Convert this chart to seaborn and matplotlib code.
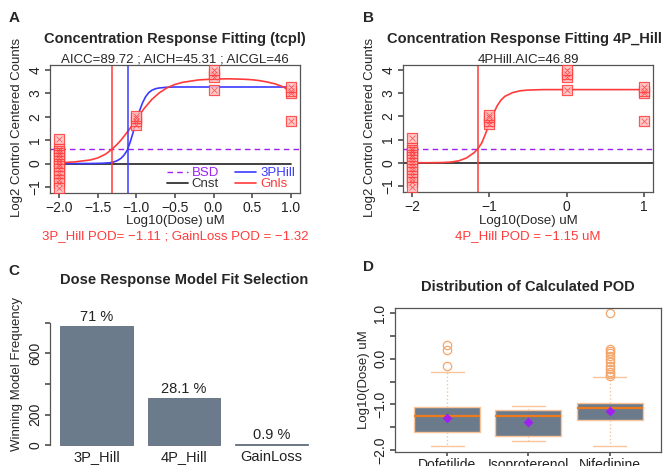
import matplotlib
matplotlib.use("Agg")
import matplotlib.pyplot as plt
import numpy as np
import pandas as pd
import seaborn as sns

# ---- data ------------------------------------------------------------------
# observed responses (same well set in panels A and B)
dose_pts = [-2] * 15 + [-1] * 4 + [0] * 4 + [1] * 4
resp_pts = [1.05, 0.62, 0.55, 0.45, 0.35, 0.25, 0.12, 0.0, -0.12, -0.25,
            -0.4, -0.55, -0.7, -0.85, -1.05,
            1.65, 1.8, 1.95, 2.05,
            3.15, 3.7, 3.83, 4.0,
            1.8, 3.0, 3.1, 3.28]

bsd_level = 0.6
cnst_x = [-2.0, 1.0]
cnst_y = [0.0, 0.0]

hill3_x = [-2.0, -1.6, -1.45, -1.35, -1.3, -1.25, -1.2, -1.16, -1.12, -1.08,
           -1.04, -1.0, -0.96, -0.92, -0.88, -0.84, -0.8, -0.75, -0.7, -0.6,
           -0.5, 0.0, 1.0]
hill3_y = [0.0, 0.0, 0.01, 0.03, 0.06, 0.12, 0.22, 0.36, 0.56, 0.92,
           1.36, 1.82, 2.25, 2.6, 2.86, 3.03, 3.13, 3.2, 3.23, 3.26,
           3.27, 3.27, 3.27]

gnls_x = [-2.0, -1.8, -1.6, -1.5, -1.4, -1.32, -1.25, -1.2, -1.1, -1.0, -0.9,
          -0.8, -0.7, -0.6, -0.5, -0.4, -0.2, 0.0, 0.2, 0.4, 0.5, 0.6, 0.7,
          0.8, 0.9, 0.95, 1.0]
gnls_y = [0.03, 0.07, 0.15, 0.24, 0.4, 0.6, 0.82, 1.0, 1.42, 1.9, 2.35,
          2.74, 3.03, 3.24, 3.38, 3.47, 3.57, 3.61, 3.62, 3.6, 3.58, 3.54, 3.48,
          3.4, 3.28, 3.18, 3.05]

hill4_x = [-2.0, -1.8, -1.6, -1.5, -1.4, -1.3, -1.2, -1.15, -1.1, -1.05, -1.0,
           -0.95, -0.9, -0.85, -0.8, -0.7, -0.6, -0.5, -0.3, 0.0, 1.0]
hill4_y = [0.0, 0.0, 0.01, 0.03, 0.08, 0.2, 0.43, 0.6, 0.85, 1.25, 1.7,
           2.1, 2.45, 2.7, 2.86, 3.02, 3.1, 3.13, 3.15, 3.15, 3.15]

hill3_pod = -1.11
gnls_pod = -1.32
hill4_pod = -1.15

models = ["3P_Hill", "4P_Hill", "GainLoss"]
model_counts = [781, 309, 10]
model_pct = ["71 %", "28.1 %", "0.9 %"]

drugs = ["Dofetilide", "Isoproterenol", "Nifedipine"]
pod_dofetilide = [-1.9, -1.82, -1.75, -1.7, -1.65, -1.6, -1.52, -1.45, -1.38,
                  -1.3, -1.25, -1.22, -1.18, -1.14, -1.1, -1.05, -0.95, -0.28,
                  -0.15, 0.2, 0.3]
pod_isoproterenol = [-1.8, -1.75, -1.7, -1.5, -1.25, -1.2, -1.12, -1.08, -1.03]
pod_nifedipine = [-1.91, -1.8, -1.72, -1.65, -1.6, -1.56, -1.52, -1.49, -1.46,
                  -1.44, -1.42, -1.4, -1.39, -1.38, -1.36, -1.35,
                  -1.33, -1.31, -1.29, -1.27, -1.25, -1.23, -1.21, -1.19,
                  -1.17, -1.15, -1.13, -1.12, -1.11, -1.09, -1.08,
                  -1.075, -1.07, -1.06, -1.055, -1.05, -1.04, -1.035, -1.03,
                  -1.02, -1.01, -1.0, -0.99, -0.985, -0.98, -0.97,
                  -0.85, -0.6, -0.41, -0.38, -0.33, -0.28, -0.22, -0.15,
                  -0.08, 0.0, 0.07, 0.13, 0.18, 0.22, 1.0]
pod_mean = [-1.3, -1.38, -1.15]

# ---- style -----------------------------------------------------------------
W, H = 669, 466
RED = "#FF3B3B"
BLUE = "#3A3AFF"
PURPLE = "#A020F0"
DARK = "#333333"
SLATE = "#6C7B8B"
PEACH = "#F9C49A"
ORANGE = "#EE7A1E"
FLIER = "#F4A66C"

sns.set_theme(style="ticks")
plt.rcParams["font.family"] = ["Liberation Sans", "DejaVu Sans"]
plt.rcParams.update({
    "axes.edgecolor": "#555555", "axes.linewidth": 0.9,
    "xtick.color": "#555555", "ytick.color": "#555555",
    "xtick.labelcolor": "#222222", "ytick.labelcolor": "#222222",
    "xtick.labelsize": 10, "ytick.labelsize": 10,
    "xtick.major.size": 3.5, "ytick.major.size": 3.5,
    "xtick.major.pad": 2.0, "ytick.major.pad": 2.0,
})

FS = 9.5       # body text
FS_T = 10.5    # panel titles

fig = plt.figure(figsize=(W / 100, H / 100), dpi=100)


def _ax(l, t, r, b):
    return fig.add_axes([l / W, 1 - b / H, (r - l) / W, (b - t) / H])


def _txt(x, y, s, **kw):
    kw.setdefault("ha", "center")
    kw.setdefault("va", "center")
    kw.setdefault("fontsize", FS)
    fig.text(x / W, 1 - y / H, s, **kw)


def _rot_yticks(ax):
    for lab in ax.get_yticklabels():
        lab.set_rotation(90)
        lab.set_va("center")


def _points(ax):
    sns.scatterplot(x=dose_pts, y=resp_pts, marker="s", s=42, color="#FFC4C4",
                    edgecolor=RED, linewidth=0.9, alpha=0.85, ax=ax, zorder=3)
    sns.scatterplot(x=dose_pts, y=resp_pts, marker="x", s=18, color=RED,
                    linewidth=0.6, alpha=0.8, ax=ax, zorder=4)


# ---- A ---------------------------------------------------------------------
ax = _ax(50, 65, 300, 193)
ax.axhline(bsd_level, color=PURPLE, ls=(0, (4, 3)), lw=1.0, label="BSD")
sns.lineplot(x=cnst_x, y=cnst_y, color=DARK, lw=1.3, ax=ax, label="Cnst")
sns.lineplot(x=hill3_x, y=hill3_y, color=BLUE, lw=1.2, ax=ax, label="3PHill")
sns.lineplot(x=gnls_x, y=gnls_y, color=RED, lw=1.2, ax=ax, label="Gnls")
ax.axvline(gnls_pod, color=RED, lw=1.1)
ax.axvline(hill3_pod, color=BLUE, lw=1.1)
_points(ax)
ax.set_xlim(-2.12, 1.12)
ax.set_ylim(-1.26, 4.21)
ax.set_xticks(np.arange(-2.0, 1.01, 0.5))
ax.set_xticklabels([f"{v:.1f}".replace("-", "\u2212") for v in np.arange(-2.0, 1.01, 0.5)])
ax.set_yticks(range(-1, 5))
_rot_yticks(ax)
ax.set_xlabel("")
ax.set_ylabel("")
leg = ax.legend(ncol=2, frameon=False, loc="lower right", fontsize=FS,
                labelcolor="linecolor", handlelength=1.6, columnspacing=1.2,
                handletextpad=0.3, labelspacing=-0.1, borderaxespad=0.0,
                borderpad=0.2, bbox_to_anchor=(0.99, 0.0))

_txt(14, 18, "A", fontsize=11, fontweight="bold")
_txt(175, 39, "Concentration Response Fitting (tcpl)", fontsize=FS_T, fontweight="bold")
_txt(175, 60, "AICC=89.72 ; AICH=45.31 ; AICGL=46")
_txt(175, 221, "Log10(Dose) uM")
_txt(175, 236, "3P_Hill POD= \u22121.11 ; GainLoss POD = \u22121.32", color=RED)
_txt(17, 127, "Log2 Control Centered Counts", rotation=90)

# ---- B ---------------------------------------------------------------------
ax = _ax(403, 65, 653, 192)
ax.axhline(bsd_level, color=PURPLE, ls=(0, (4, 3)), lw=1.0)
ax.axhline(0, color=DARK, lw=1.3)
sns.lineplot(x=hill4_x, y=hill4_y, color=RED, lw=1.2, ax=ax)
ax.axvline(hill4_pod, color=RED, lw=1.1)
_points(ax)
ax.set_xlim(-2.12, 1.12)
ax.set_ylim(-1.26, 4.21)
ax.set_xticks([-2, -1, 0, 1])
ax.set_yticks(range(-1, 5))
_rot_yticks(ax)

_txt(368, 18, "B", fontsize=11, fontweight="bold")
_txt(524, 39, "Concentration Response Fitting 4P_Hill", fontsize=FS_T, fontweight="bold")
_txt(528, 60, "4PHill.AIC=46.89")
_txt(528, 221, "Log10(Dose) uM")
_txt(528, 236, "4P_Hill POD = \u22121.15 uM", color=RED)
_txt(370, 127, "Log2 Control Centered Counts", rotation=90)

# ---- C ---------------------------------------------------------------------
ax = _ax(50, 321, 318, 450)
sns.barplot(x=models, y=model_counts, color=SLATE, saturation=1, width=0.833,
            edgecolor="#5F6D7C", linewidth=0.6, ax=ax)
for i, lab in enumerate(model_pct):
    ax.text(i, model_counts[i] + 12, lab, ha="center", va="bottom", fontsize=10.5,
            color="#222222")
ax.set_xlim(-0.53, 2.53)
ax.set_ylim(-31, 812)
ax.set_yticks([0, 200, 400, 600, 800])
ax.set_yticklabels(["0", "200", "", "600", ""])
_rot_yticks(ax)
sns.despine(ax=ax, bottom=True)
ax.spines["left"].set_bounds(0, 800)
ax.tick_params(axis="x", length=0, pad=0, labelsize=10.5)

_txt(14, 271, "C", fontsize=11, fontweight="bold")
_txt(184, 280, "Dose Response Model Fit Selection", fontsize=FS_T, fontweight="bold")
_txt(17, 374, "Winning Model Frequency", rotation=90)

# ---- D ---------------------------------------------------------------------
pod_df = pd.DataFrame({
    "drug": [drugs[0]] * len(pod_dofetilide) + [drugs[1]] * len(pod_isoproterenol)
            + [drugs[2]] * len(pod_nifedipine),
    "pod": pod_dofetilide + pod_isoproterenol + pod_nifedipine,
})
ax = _ax(395, 308, 661, 452)
sns.boxplot(data=pod_df, x="drug", y="pod", order=drugs, color=SLATE,
            saturation=1, width=0.81, linecolor=PEACH, linewidth=1.0,
            medianprops=dict(color=ORANGE, linewidth=1.6),
            whiskerprops=dict(color=PEACH, linestyle=":", linewidth=1.0),
            capprops=dict(color=PEACH, linewidth=1.0),
            flierprops=dict(marker="o", markerfacecolor="none",
                            markeredgecolor=FLIER, markersize=6,
                            markeredgewidth=0.9),
            ax=ax)
sns.stripplot(x=drugs, y=pod_mean, order=drugs, jitter=False, marker="D",
              color=PURPLE, size=5, ax=ax, zorder=5)
ax.set_xlim(-0.64, 2.63)
ax.set_ylim(-2.04, 1.11)
ax.set_yticks(np.arange(-2.0, 1.01, 0.5))
ax.set_yticklabels(["\u22122.0", "", "\u22121.0", "", "0.0", "", "1.0"])
_rot_yticks(ax)
ax.set_xlabel("")
ax.set_ylabel("")
ax.tick_params(axis="x", labelsize=10, length=3, pad=1)

_txt(368, 267, "D", fontsize=11, fontweight="bold")
_txt(528, 287, "Distribution of Calculated POD", fontsize=FS_T, fontweight="bold")
_txt(364, 380, "Log10(Dose) uM", rotation=90)

fig.savefig("out.png", dpi=100)
